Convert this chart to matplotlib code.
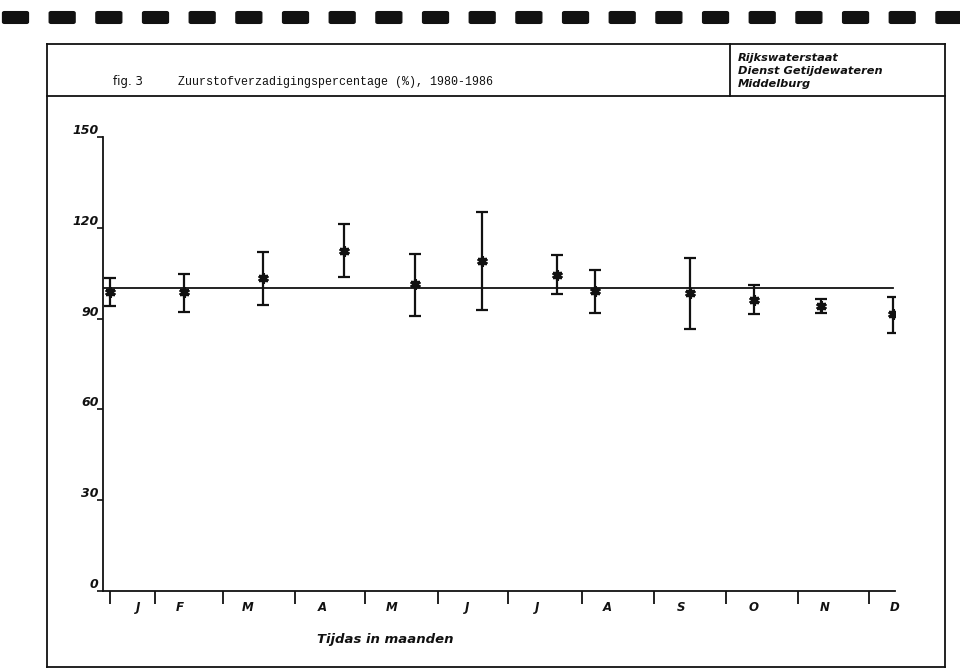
import matplotlib.pyplot as plt
from matplotlib.patches import FancyBboxPatch
from matplotlib.lines import Line2D

# months, positions in "month units" along the time axis
months = ['J', 'F', 'M', 'A', 'M', 'J', 'J', 'A', 'S', 'O', 'N', 'D']
label_pos = [0.49, 1.07, 2.01, 3.04, 4.01, 5.06, 6.03, 7.01, 8.03, 9.04, 10.03, 11.0]
sep_pos = [0.10, 0.72, 1.67, 2.67, 3.64, 4.65, 5.63, 6.65, 7.65, 8.65, 9.65, 10.64]

# monthly oxygen saturation (%), mean and range
pt_x = [0.10, 1.13, 2.22, 3.35, 4.33, 5.26, 6.30, 6.83, 8.15, 9.04, 9.97, 10.97]
mean = [98.8, 98.8, 103.4, 112.5, 101.3, 109.0, 104.5, 99.0, 98.6, 96.3, 94.2, 91.4]
low = [94.1, 92.2, 94.4, 103.6, 90.8, 92.7, 98.0, 91.8, 86.7, 91.4, 92.0, 85.2]
high = [103.5, 104.7, 112.0, 121.1, 111.5, 125.1, 110.9, 105.9, 110.1, 101.2, 96.4, 97.1]
ref_level = 100
yticks = [0, 30, 60, 90, 120, 150]

W, H = 960, 669
fig = plt.figure(figsize=(W / 100, H / 100), dpi=100)

def fx(px):
    return px / W

def fy(py):
    return 1 - py / H

ink = '#111111'

# perforation strip along the top
for k in range(21):
    cx = 15.5 + 46.67 * k
    fig.patches.append(FancyBboxPatch((fx(cx - 11), fy(22)), fx(22), 9 / H,
                                      boxstyle='round,pad=0.002', transform=fig.transFigure,
                                      facecolor=ink, edgecolor=ink))

# frame and header box
frame = [((47, 44), (945, 44)), ((945, 44), (945, 667)), ((945, 667), (47, 667)),
         ((47, 667), (47, 44)), ((47, 96), (945, 96)), ((730, 44), (730, 96))]
for (x0, y0), (x1, y1) in frame:
    fig.add_artist(Line2D([fx(x0), fx(x1)], [fy(y0), fy(y1)], color=ink, lw=1.3))

fig.text(fx(113), fy(82), 'fig. 3', fontsize=8.5, family='DejaVu Sans', color=ink, va='center')
fig.text(fx(178), fy(82), 'Zuurstofverzadigingspercentage (%), 1980-1986', fontsize=8.4,
         family='Liberation Mono', color=ink, va='center')
for i, line in enumerate(['Rijkswaterstaat', 'Dienst Getijdewateren', 'Middelburg']):
    fig.text(fx(738), fy(58 + 13 * i), line, fontsize=8.2, style='italic', weight='bold',
             color=ink, va='center')

# plot area
ax = fig.add_axes([fx(103), fy(591), fx(895) - fx(103), fy(137) - fy(591)])
ax.set_xlim(0, 11)
ax.set_ylim(0, 150)
for s in ['top', 'right']:
    ax.spines[s].set_visible(False)
for s in ['left', 'bottom']:
    ax.spines[s].set_color(ink)
    ax.spines[s].set_linewidth(1.3)
ax.set_facecolor('none')

ax.set_yticks(yticks)
ax.set_yticklabels([])
ax.tick_params(axis='y', length=4, width=1.2, color=ink, direction='out')
for v in yticks:
    ax.text(-0.06, v, str(v), ha='right', va='bottom', fontsize=9, style='italic',
            weight='bold', color=ink)

ax.set_xticks(sep_pos)
ax.set_xticklabels([])
ax.tick_params(axis='x', length=9, width=1.3, color=ink, direction='out')
for m, p in zip(months, label_pos):
    ax.text(p, -5.3, m, ha='center', va='center', fontsize=8.5, style='italic',
            weight='bold', color=ink, clip_on=False)
fig.text(fx(385), fy(639), 'Tijdas in maanden', ha='center', va='center', fontsize=9.5,
         style='italic', weight='bold', color=ink)

ax.plot([0, 10.97], [ref_level, ref_level], color=ink, lw=1.3)
err = [[m - l for m, l in zip(mean, low)], [h - m for m, h in zip(mean, high)]]
ax.errorbar(pt_x, mean, yerr=err, fmt='none', ecolor=ink, elinewidth=1.6,
            capsize=4.5, capthick=1.6)
ax.plot(pt_x, mean, ls='none', marker=(6, 2, 0), ms=7.5, mew=2.2, color=ink)
ax.plot(pt_x, mean, ls='none', marker='s', ms=4, color=ink)

fig.savefig('out.png', dpi=100)
